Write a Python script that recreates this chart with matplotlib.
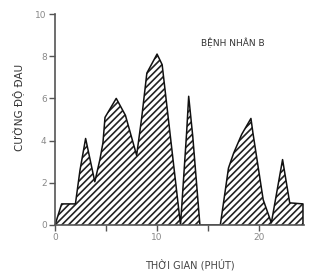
import matplotlib
matplotlib.use("Agg")
import matplotlib.pyplot as plt

plt.rcParams['font.family'] = ['DejaVu Sans']
plt.rcParams['hatch.linewidth'] = 1.2

# Pain intensity over time (minutes), patient B
time_min = [0, 0.65, 2.0, 2.45, 3.0, 3.9, 4.4, 4.7, 4.9, 6.0, 6.9, 8.0, 8.5, 9.0, 10.0, 10.5,
            12.3, 12.9, 13.1, 13.5, 14.2, 16.2, 17.0, 17.5, 18.3, 19.2, 19.4, 20.4, 21.2,
            22.3, 23.0, 24.3, 24.3]
pain = [0, 1.0, 1.0, 2.6, 4.1, 2.05, 3.1, 3.9, 5.1, 6.0, 5.2, 3.3, 5.1, 7.2, 8.1, 7.6,
        0.0, 4.4, 6.1, 4.2, 0.0, 0.0, 2.7, 3.4, 4.3, 5.05, 4.35, 1.2, 0.1,
        3.1, 1.05, 1.0, 0.0]

x_ticks = [0, 5, 10, 15, 20]
x_ticklabels = ['0', '', '10', '', '20']
y_ticks = [0, 2, 4, 6, 8, 10]

title_text = "BỆNH NHÂN B"
xlabel_text = "THỜI GIAN (PHÚT)"
ylabel_text = "CƯỜNG ĐỘ ĐAU"

fig = plt.figure(figsize=(3.12, 2.71), dpi=100)
ax = fig.add_axes([55/312, 46/271, (304-55)/312, (225-14)/271])

ax.fill_between(time_min, pain, 0, facecolor='white', edgecolor='#222222',
                hatch='/////', linewidth=0)
ax.plot(time_min, pain, color='#111111', linewidth=1.1)

ax.set_xlim(0, 24.4)
ax.set_ylim(0, 10)
for s in ['top', 'right']:
    ax.spines[s].set_visible(False)
for s in ['left', 'bottom']:
    ax.spines[s].set_color('#555555')
    ax.spines[s].set_linewidth(1.2)

ax.set_xticks(x_ticks)
ax.set_xticklabels(x_ticklabels)
ax.set_yticks(y_ticks)
ax.tick_params(axis='both', direction='out', length=4, width=1.0, color='#555555',
               labelsize=6.5, labelcolor='#888888', pad=2)

fig.text(233/312, 1 - 43/271, title_text, ha='center', va='center', fontsize=6.5, color='#333333')
fig.text(190/312, 1 - 265/271, xlabel_text, ha='center', va='center', fontsize=7, color='#444444')
fig.text(18/312, 1 - 107/271, ylabel_text, ha='center', va='center', rotation=90,
         fontsize=7.5, color='#333333')

fig.savefig('out.png', dpi=100)
